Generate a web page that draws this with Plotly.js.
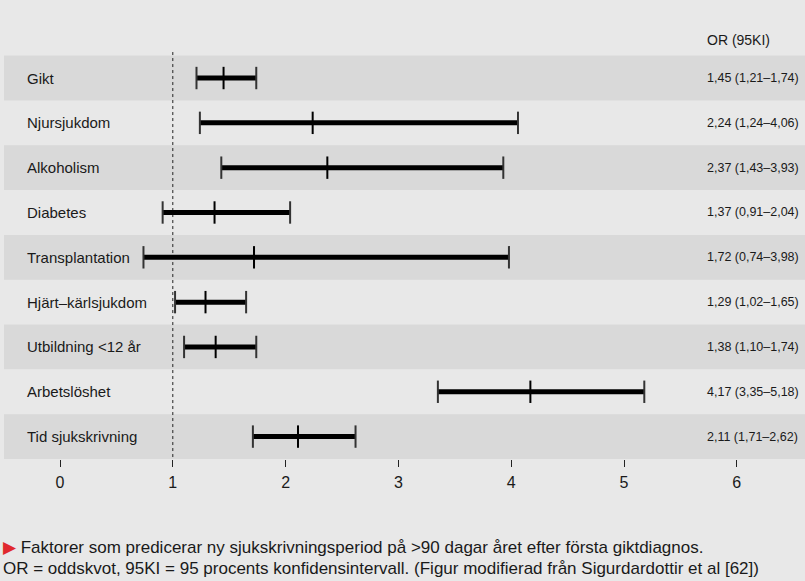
<!DOCTYPE html>
<html>
<head>
<meta charset="utf-8">
<script src="https://cdn.plot.ly/plotly-3.0.1.min.js"></script>
<style>
html,body{margin:0;padding:0;background:#e8e8e8;}
#chart{width:805px;height:581px;}
</style>
</head>
<body>
<div id="chart"></div>
<script>
const categories = ["Gikt","Njursjukdom","Alkoholism","Diabetes","Transplantation","Hjärt–kärlsjukdom","Utbildning <12 år","Arbetslöshet","Tid sjukskrivning"];
const orValues = [1.45, 2.24, 2.37, 1.37, 1.72, 1.29, 1.38, 4.17, 2.11];
const ciLow    = [1.21, 1.24, 1.43, 0.91, 0.74, 1.02, 1.10, 3.35, 1.71];
const ciHigh   = [1.74, 4.06, 3.93, 2.04, 3.98, 1.65, 1.74, 5.18, 2.62];
const tickVals = [0,1,2,3,4,5,6];
const columnHeader = "OR (95KI)";
const captionLine1 = "Faktorer som predicerar ny sjukskrivningsperiod på >90 dagar året efter första giktdiagnos.";
const captionLine2 = "OR = oddskvot, 95KI = 95 procents konfidensintervall. (Figur modifierad från Sigurdardottir et al [62])";

const FONT = '"Liberation Sans", Arial, sans-serif';
const TXT = '#1a1a1a';
const fmt = v => v.toFixed(2).replace('.', ',');

const idx = categories.map((_, i) => i);

// CI lines
const lx = [], ly = [];
idx.forEach(i => { lx.push(ciLow[i], ciHigh[i], null); ly.push(i, i, null); });

const traces = [
  {type:'scatter', mode:'lines', x:lx, y:ly, line:{color:'#000', width:5}, hoverinfo:'skip', showlegend:false},
  {type:'scatter', mode:'markers', x:ciLow.concat(ciHigh), y:idx.concat(idx),
   marker:{symbol:'line-ns', size:16, line:{color:'#333', width:2}}, hoverinfo:'skip', showlegend:false},
  {type:'scatter', mode:'markers', x:orValues, y:idx,
   marker:{symbol:'line-ns', size:16, line:{color:'#000', width:2}}, hoverinfo:'skip', showlegend:false}
];

const shapes = [];
idx.forEach(i => {
  if (i % 2 === 0) {
    shapes.push({type:'rect', xref:'paper', yref:'y', x0:0, x1:1, y0:i-0.5, y1:i+0.5,
      fillcolor:'#d9d9d9', line:{width:0}, layer:'below'});
  }
});
shapes.push({type:'line', xref:'x', yref:'y', x0:1, x1:1, y0:-0.58, y1:8.5,
  line:{color:'#222', width:1, dash:'dot'}, layer:'below'});

const W = 801, L = 4;
const px = p => (p - L) / W;
const annotations = [];
idx.forEach(i => {
  annotations.push({xref:'paper', yref:'y', x:px(25), y:i, text:categories[i], showarrow:false,
    xanchor:'left', yanchor:'middle', font:{family:FONT, size:15, color:TXT}});
  annotations.push({xref:'paper', yref:'y', x:px(705), y:i,
    text: fmt(orValues[i]) + ' (' + fmt(ciLow[i]) + '–' + fmt(ciHigh[i]) + ')',
    showarrow:false, xanchor:'left', yanchor:'middle', font:{family:FONT, size:12.5, color:TXT}});
});
annotations.push({xref:'paper', yref:'y', x:px(705), y:-0.85, text:columnHeader, showarrow:false,
  xanchor:'left', yanchor:'middle', font:{family:FONT, size:14, color:TXT}});
const plotH = 458.8;
annotations.push({xref:'paper', yref:'paper', x:px(1), y:(plotH-547)/plotH,
  text:'<span style="color:#e0282e">▶</span> ' + captionLine1, showarrow:false, xanchor:'left', yanchor:'middle',
  font:{family:FONT, size:17, color:TXT}});
annotations.push({xref:'paper', yref:'paper', x:px(1), y:(plotH-568)/plotH,
  text:captionLine2, showarrow:false, xanchor:'left', yanchor:'middle',
  font:{family:FONT, size:17, color:TXT}});

const k = 112.8;
const x0 = -(60 - L) / k;
const x1 = x0 + W / k;
const y0 = -78 / 44.8;

const layout = {
  width:805, height:581,
  margin:{l:L, r:0, t:0, b:581-plotH, pad:0},
  paper_bgcolor:'#e8e8e8', plot_bgcolor:'rgba(0,0,0,0)',
  showlegend:false,
  xaxis:{range:[x0, x1], tickvals:tickVals, ticktext:tickVals.map(String), ticks:'outside', ticklen:7,
    tickcolor:'#222', tickwidth:1, showgrid:false, zeroline:false, showline:false,
    tickfont:{family:FONT, size:16, color:TXT}, ticklabelstandoff:2, fixedrange:true},
  yaxis:{range:[8.5, y0], showgrid:false, zeroline:false, showline:false, showticklabels:false,
    ticks:'', fixedrange:true},
  shapes:shapes,
  annotations:annotations
};

Plotly.newPlot('chart', traces, layout, {displayModeBar:false, staticPlot:true});
</script>
</body>
</html>
